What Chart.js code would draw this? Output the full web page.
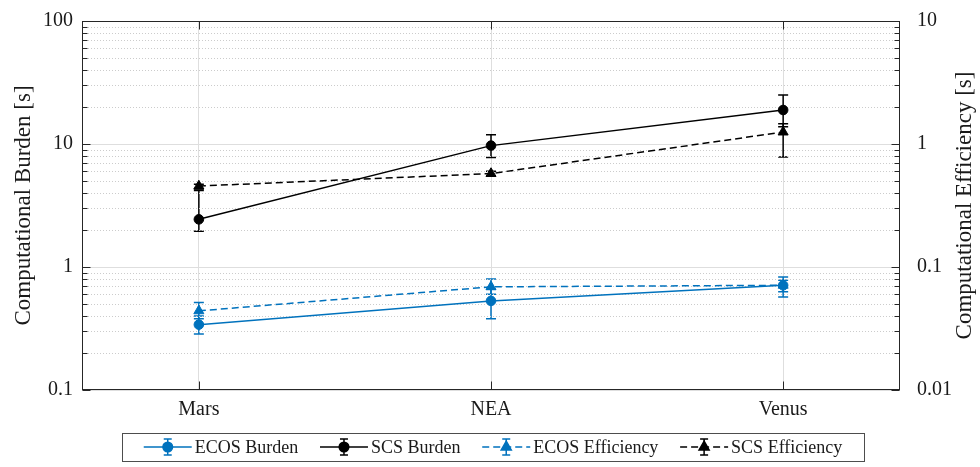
<!DOCTYPE html>
<html>
<head>
<meta charset="utf-8">
<title>Computational burden and efficiency</title>
<script src="https://cdn.jsdelivr.net/npm/chart.js@4/dist/chart.umd.min.js"></script>
<style>
  html, body { margin: 0; padding: 0; background: #fff; }
</style>
</head>
<body>
<canvas id="timesChart" width="980" height="467"></canvas>
<script>
// mission cases on the x axis
const categories = ['Mars', 'NEA', 'Venus'];

// burden [s], left axis
const ecosBurden     = [0.34, 0.53, 0.71];
const ecosBurdenLow  = [0.285, 0.38, 0.63];
const ecosBurdenHigh = [0.40, 0.66, 0.83];
const scsBurden      = [2.44, 9.7, 18.9];
const scsBurdenLow   = [1.95, 7.75, 13.8];
const scsBurdenHigh  = [4.19, 11.9, 25.0];

// efficiency [s], right axis
const ecosEff     = [0.044, 0.069, 0.071];
const ecosEffLow  = [0.038, 0.060, 0.057];
const ecosEffHigh = [0.0514, 0.080, 0.078];
const scsEff      = [0.455, 0.575, 1.25];
const scsEffLow   = [0.43, 0.55, 0.785];
const scsEffHigh  = [0.47, 0.60, 1.46];

const burdenTicks = [0.1, 1, 10, 100];
const effTicks    = [0.01, 0.1, 1, 10];

const FONT = "'Liberation Serif', 'Times New Roman', serif";
const BLUE = '#0072BD';
const INK = '#1a1a1a';

function minorsBetween(lo, hi) {
  const out = [];
  for (let d = lo; d < hi * 0.999; d *= 10) {
    for (let k = 2; k <= 9; k++) out.push(d * k);
  }
  return out;
}

function series(label, vals, low, high, axis, color, dashed, marker, r) {
  return {
    label: label,
    data: vals.map((v, i) => ({ x: i + 1, y: v })),
    errLow: low,
    errHigh: high,
    yAxisID: axis,
    borderColor: color,
    backgroundColor: color,
    borderWidth: 1.5,
    borderDash: dashed ? [7, 4] : [],
    pointStyle: marker,
    pointRadius: r,
    pointHoverRadius: r,
    pointBorderWidth: 1,
    tension: 0
  };
}

// vertical error bars with caps, drawn under the markers
const errorBars = {
  id: 'errorBars',
  beforeDatasetsDraw(chart) {
    const ctx = chart.ctx;
    const xs = chart.scales.x;
    chart.data.datasets.forEach(ds => {
      const ys = chart.scales[ds.yAxisID];
      ctx.save();
      ctx.strokeStyle = ds.borderColor;
      ctx.lineWidth = 1.5;
      ctx.setLineDash([]);
      ds.data.forEach((p, i) => {
        const x = xs.getPixelForValue(p.x);
        const y0 = ys.getPixelForValue(ds.errLow[i]);
        const y1 = ys.getPixelForValue(ds.errHigh[i]);
        ctx.beginPath();
        ctx.moveTo(x, y0); ctx.lineTo(x, y1);
        ctx.moveTo(x - 5, y0); ctx.lineTo(x + 5, y0);
        ctx.moveTo(x - 5, y1); ctx.lineTo(x + 5, y1);
        ctx.stroke();
      });
      ctx.restore();
    });
  }
};

// dotted minor grid, box, inward ticks, right title and legend
const axesBox = {
  id: 'axesBox',
  beforeDatasetsDraw(chart) {
    const { ctx, chartArea: a } = chart;
    const ys = chart.scales.y;
    ctx.save();
    ctx.strokeStyle = '#cccccc';
    ctx.lineWidth = 1;
    ctx.setLineDash([1, 2]);
    minorsBetween(burdenTicks[0], burdenTicks[burdenTicks.length - 1]).forEach(v => {
      const y = Math.round(ys.getPixelForValue(v)) + 0.5;
      ctx.beginPath();
      ctx.moveTo(a.left, y); ctx.lineTo(a.right, y);
      ctx.stroke();
    });
    ctx.restore();
  },
  afterDraw(chart) {
    const { ctx, chartArea: a } = chart;
    const xs = chart.scales.x, ys = chart.scales.y;
    const L = a.left + 0.5, R = a.right - 0.5, T = a.top + 0.5, B = a.bottom - 0.5;
    ctx.save();
    ctx.strokeStyle = '#262626';
    ctx.lineWidth = 1;
    ctx.setLineDash([]);
    ctx.strokeRect(L, T, R - L, B - T);

    ctx.beginPath();
    burdenTicks.forEach(v => {
      const y = Math.round(ys.getPixelForValue(v)) + 0.5;
      ctx.moveTo(L, y); ctx.lineTo(L + 8, y);
      ctx.moveTo(R, y); ctx.lineTo(R - 8, y);
    });
    minorsBetween(burdenTicks[0], burdenTicks[burdenTicks.length - 1]).forEach(v => {
      const y = Math.round(ys.getPixelForValue(v)) + 0.5;
      ctx.moveTo(L, y); ctx.lineTo(L + 5, y);
      ctx.moveTo(R, y); ctx.lineTo(R - 5, y);
    });
    categories.forEach((c, i) => {
      const x = Math.round(xs.getPixelForValue(i + 1)) + 0.5;
      ctx.moveTo(x, B); ctx.lineTo(x, B - 8);
      ctx.moveTo(x, T); ctx.lineTo(x, T + 8);
    });
    ctx.stroke();

    // right axis title, reading bottom to top
    ctx.fillStyle = INK;
    ctx.font = '23px ' + FONT;
    ctx.textAlign = 'center';
    ctx.textBaseline = 'middle';
    ctx.translate(965, (a.top + a.bottom) / 2);
    ctx.rotate(-Math.PI / 2);
    ctx.fillText('Computational Efficiency [s]', 0, 0);
    ctx.restore();

    drawLegend(chart);
  }
};

function drawLegend(chart) {
  const ctx = chart.ctx;
  const box = { left: 122, right: 864, top: 433, bottom: 461 };
  const sym = 48, gapText = 3;
  const cy = (box.top + box.bottom) / 2;
  ctx.save();
  ctx.font = '18px ' + FONT;
  const items = chart.data.datasets;
  const widths = items.map(ds => sym + gapText + ctx.measureText(ds.label).width);
  const used = widths.reduce((s, w) => s + w, 0);
  const spare = (box.right - box.left - used) / (items.length + 1);

  ctx.fillStyle = '#fff';
  ctx.fillRect(box.left, box.top, box.right - box.left, box.bottom - box.top);
  ctx.strokeStyle = '#4d4d4d';
  ctx.lineWidth = 1;
  ctx.strokeRect(box.left + 0.5, box.top + 0.5, box.right - box.left, box.bottom - box.top);

  let x = box.left + spare;
  items.forEach((ds, i) => {
    const mx = x + sym / 2;
    ctx.strokeStyle = ds.borderColor;
    ctx.fillStyle = ds.backgroundColor;
    ctx.lineWidth = 1.5;
    ctx.setLineDash(ds.borderDash);
    ctx.beginPath();
    ctx.moveTo(x, cy); ctx.lineTo(x + sym, cy);
    ctx.stroke();
    ctx.setLineDash([]);
    ctx.beginPath();
    ctx.moveTo(mx, cy - 8); ctx.lineTo(mx, cy + 8);
    ctx.moveTo(mx - 4, cy - 8); ctx.lineTo(mx + 4, cy - 8);
    ctx.moveTo(mx - 4, cy + 8); ctx.lineTo(mx + 4, cy + 8);
    ctx.stroke();
    Chart.helpers.drawPoint(ctx, {
      pointStyle: ds.pointStyle, radius: ds.pointRadius, rotation: 0, borderWidth: 1
    }, mx, cy);
    ctx.fillStyle = INK;
    ctx.textAlign = 'left';
    ctx.textBaseline = 'middle';
    ctx.fillText(ds.label, x + sym + gapText, cy + 1);
    x += widths[i] + spare;
  });
  ctx.restore();
}

const tickFont = { family: FONT, size: 20 };

new Chart(document.getElementById('timesChart'), {
  type: 'line',
  data: {
    datasets: [
      series('ECOS Burden', ecosBurden, ecosBurdenLow, ecosBurdenHigh, 'y', BLUE, false, 'circle', 4.8),
      series('SCS Burden', scsBurden, scsBurdenLow, scsBurdenHigh, 'y', '#000', false, 'circle', 4.8),
      series('ECOS Efficiency', ecosEff, ecosEffLow, ecosEffHigh, 'y2', BLUE, true, 'triangle', 5.8),
      series('SCS Efficiency', scsEff, scsEffLow, scsEffHigh, 'y2', '#000', true, 'triangle', 5.8)
    ]
  },
  options: {
    responsive: false,
    animation: false,
    events: [],
    layout: { padding: { top: 19, left: 0, right: 0, bottom: 0 } },
    plugins: { legend: { display: false }, tooltip: { enabled: false } },
    scales: {
      x: {
        type: 'linear',
        min: 0.6,
        max: 3.4,
        afterBuildTicks: s => { s.ticks = categories.map((c, i) => ({ value: i + 1 })); },
        afterFit: s => { s.height = 77; },
        ticks: {
          callback: v => categories[v - 1],
          font: tickFont,
          color: INK,
          padding: 8,
          maxRotation: 0,
          autoSkip: false
        },
        grid: { color: '#dedede', lineWidth: 1, drawTicks: false },
        border: { display: false }
      },
      y: {
        type: 'logarithmic',
        position: 'left',
        min: burdenTicks[0],
        max: burdenTicks[burdenTicks.length - 1],
        afterBuildTicks: s => { s.ticks = burdenTicks.map(v => ({ value: v })); },
        afterFit: s => { s.width = 82; },
        ticks: { callback: v => String(v), font: tickFont, color: INK, padding: 9, autoSkip: false },
        grid: { color: '#dedede', lineWidth: 1, drawTicks: false },
        border: { display: false },
        title: {
          display: true,
          text: 'Computational Burden [s]',
          font: { family: FONT, size: 23 },
          color: INK,
          padding: { top: 10, bottom: 0 }
        }
      },
      y2: {
        type: 'logarithmic',
        position: 'right',
        min: effTicks[0],
        max: effTicks[effTicks.length - 1],
        afterBuildTicks: s => { s.ticks = effTicks.map(v => ({ value: v })); },
        afterFit: s => { s.width = 80; },
        ticks: { callback: v => String(v), font: tickFont, color: INK, padding: 9, autoSkip: false },
        grid: { display: false },
        border: { display: false }
      }
    }
  },
  plugins: [errorBars, axesBox]
});
</script>
</body>
</html>
